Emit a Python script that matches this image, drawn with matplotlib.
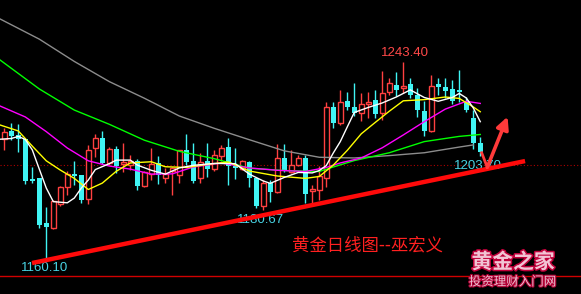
import matplotlib
matplotlib.use('Agg')
import matplotlib.pyplot as plt
import matplotlib.patheffects as pe
import numpy as np

# daily candles, left to right
opens = [1210.8, 1214.2, 1212.5, 1210.8, 1193.9, 1194.4, 1175.4, 1173.3, 1183.4, 1190.6,
         1196.0, 1195.6, 1185.5, 1207.0, 1211.2, 1200.7, 1206.6, 1200.3, 1199.8, 1201.5,
         1191.0, 1196.0, 1200.7, 1194.4, 1197.3, 1195.6, 1206.2, 1201.5, 1194.4, 1201.5,
         1198.1, 1203.6, 1207.4, 1199.4, 1198.1, 1201.1, 1194.4, 1182.6, 1192.2, 1188.5,
         1202.8, 1196.9, 1199.8, 1202.8, 1188.9, 1189.3, 1194.4, 1224.3, 1217.5, 1226.8,
         1224.3, 1221.8, 1225.6, 1227.2, 1221.8, 1230.6, 1233.6, 1232.3, 1234.0, 1229.3,
         1222.6, 1214.2, 1234.0, 1232.7, 1231.9, 1231.5, 1226.8, 1219.7, 1209.1]
closes = [1213.7, 1212.1, 1210.8, 1193.1, 1193.1, 1174.5, 1173.7, 1184.7, 1190.6, 1196.0,
          1195.2, 1185.1, 1206.2, 1211.2, 1200.7, 1206.6, 1199.4, 1201.1, 1201.5, 1191.0,
          1196.9, 1200.3, 1195.6, 1196.0, 1198.6, 1206.2, 1201.1, 1193.1, 1201.1, 1198.1,
          1204.1, 1207.0, 1199.4, 1198.6, 1201.5, 1194.4, 1182.6, 1192.2, 1188.5, 1202.8,
          1197.3, 1199.8, 1202.8, 1187.6, 1189.7, 1195.2, 1224.3, 1217.5, 1226.4, 1224.3,
          1221.8, 1225.6, 1226.4, 1221.3, 1230.2, 1234.4, 1231.5, 1233.1, 1229.3, 1223.0,
          1214.2, 1233.1, 1232.7, 1231.0, 1226.8, 1230.6, 1223.0, 1209.1, 1205.3]
highs = [1215.4, 1217.5, 1217.1, 1210.8, 1199.0, 1194.4, 1182.1, 1185.1, 1191.0, 1197.3,
         1201.5, 1195.6, 1208.3, 1212.9, 1214.2, 1207.4, 1207.8, 1209.1, 1204.1, 1202.4,
         1197.3, 1207.0, 1203.6, 1198.6, 1199.0, 1206.2, 1212.9, 1209.1, 1204.9, 1209.1,
         1206.2, 1208.3, 1211.2, 1207.0, 1201.9, 1201.5, 1194.4, 1193.5, 1193.5, 1208.7,
         1208.7, 1206.2, 1204.1, 1204.1, 1191.4, 1199.4, 1226.4, 1226.4, 1231.5, 1230.6,
         1234.4, 1230.2, 1230.6, 1231.5, 1239.5, 1236.5, 1239.0, 1243.4, 1236.5, 1232.3,
         1226.8, 1237.8, 1236.5, 1236.5, 1235.7, 1239.9, 1228.5, 1223.0, 1211.6]
lows = [1206.2, 1210.4, 1205.3, 1191.8, 1192.2, 1173.3, 1160.1, 1172.9, 1182.6, 1187.2,
        1191.4, 1183.8, 1183.4, 1203.2, 1200.3, 1199.8, 1196.5, 1196.9, 1197.7, 1189.3,
        1190.6, 1193.5, 1191.8, 1192.2, 1187.2, 1192.2, 1199.8, 1192.2, 1192.2, 1194.8,
        1197.3, 1201.5, 1191.4, 1193.9, 1197.7, 1190.6, 1181.7, 1180.67, 1184.2, 1188.1,
        1196.9, 1196.5, 1199.4, 1183.8, 1183.8, 1185.1, 1190.6, 1215.4, 1216.7, 1223.0,
        1220.5, 1218.4, 1219.7, 1219.7, 1218.8, 1229.3, 1228.9, 1230.2, 1228.1, 1220.1,
        1212.1, 1213.8, 1229.3, 1228.1, 1225.6, 1226.4, 1222.2, 1206.6, 1203.7]

# moving averages (candle index, price)
ma5_x = [-0.6, 1, 2, 3, 4, 5, 6, 7, 9, 10, 11, 12, 13, 15, 16, 18, 19, 21, 23, 25, 27, 30, 33,
         35, 37, 38, 40, 42, 44, 45, 46, 47, 48, 49, 50, 52, 54, 56, 58, 60, 62, 64, 65, 66, 67, 68]
ma5_y = [1210.7, 1211.0, 1211.9, 1210.6, 1206.2, 1198.1, 1190.1, 1184.4, 1183.9, 1185.9, 1190.1,
         1193.5, 1197.9, 1200.4, 1201.9, 1201.9, 1199.8, 1197.6, 1196.0, 1198.6, 1199.7, 1200.5,
         1200.4, 1196.0, 1193.1, 1192.1, 1194.6, 1196.7, 1196.5, 1197.5, 1199.6, 1204.9, 1209.7,
         1215.9, 1222.0, 1224.1, 1226.0, 1228.5, 1231.5, 1228.3, 1226.7, 1228.3, 1230.0, 1228.1,
         1223.9, 1218.1]
ma10_x = [-0.6, 2, 4, 6, 8, 10, 12, 14, 16, 18, 21, 23, 26, 29, 32, 35, 39, 43, 45, 47, 49, 51,
          53, 55, 57, 60, 63, 65, 67, 68]
ma10_y = [1216.7, 1214.2, 1207.8, 1201.6, 1197.7, 1194.2, 1189.5, 1192.2, 1197.2, 1200.7, 1201.2,
          1199.1, 1198.8, 1200.1, 1201.1, 1197.3, 1195.2, 1194.2, 1195.0, 1199.8, 1206.0, 1213.0,
          1217.8, 1222.5, 1226.9, 1227.4, 1228.5, 1227.9, 1224.3, 1222.3]
ma20_x = [-0.6, 3, 6, 9, 12, 15, 18, 21, 24, 27, 31, 35, 39, 43, 46, 48, 51, 54, 57, 60, 63, 66, 68]
ma20_y = [1224.7, 1220.1, 1213.9, 1207.0, 1201.6, 1199.4, 1198.1, 1196.0, 1196.1, 1199.0, 1200.7,
          1198.6, 1197.6, 1197.1, 1198.8, 1200.7, 1202.8, 1207.1, 1212.5, 1218.1, 1223.4, 1226.7,
          1225.8]
ma40_x = [-0.6, 5, 10, 15, 20, 25, 30, 35, 40, 45, 47, 50, 55, 60, 65, 68]
ma40_y = [1244.1, 1231.9, 1223.0, 1217.0, 1210.3, 1205.6, 1202.5, 1198.5, 1197.5, 1197.1, 1199.0,
          1201.7, 1205.0, 1209.7, 1211.9, 1212.7]
ma60_x = [-0.6, 5, 10, 15, 20, 25, 30, 35, 40, 45, 50, 55, 60, 65, 67]
ma60_y = [1261.4, 1252.9, 1243.5, 1235.0, 1228.0, 1220.5, 1215.3, 1210.5, 1205.8, 1203.1, 1202.8,
          1203.8, 1205.0, 1207.4, 1208.3]

# support line and arrow
trend_x = [3.96, 74.4]
trend_y = [1158.5, 1201.5]
arrow_x = [68.2, 69.0, 71.9]
arrow_y = [1205.0, 1198.9, 1220.2]

UP = '#ff4040'
DOWN = '#40f4f4'

fig = plt.figure(figsize=(5.81, 2.94), dpi=100, facecolor='black')
ax = fig.add_axes([0, 0, 1, 1])
ax.set_facecolor('black')
ax.set_xlim(-0.614, 82.39)
ax.set_ylim(1145.45, 1269.4)
ax.axis('off')

ax.axhline(1200.0, color='#b00000', lw=0.8, ls=(0, (1, 2)), zorder=1)
ax.axhline(1153.0, color='#d00000', lw=1.0, zorder=1)

x = np.arange(len(opens))
o = np.array(opens)
c = np.array(closes)
up = c >= o
cols = np.where(up, UP, DOWN)
ax.vlines(x, lows, highs, colors=cols, lw=1.0, zorder=2)
bottom = np.minimum(o, c)
height = np.maximum(np.abs(c - o), 0.4)
ax.bar(x[up], height[up], bottom=bottom[up], width=0.72, facecolor='black',
       edgecolor=UP, linewidth=1.0, zorder=3)
ax.bar(x[~up], height[~up], bottom=bottom[~up], width=0.72, color=DOWN, linewidth=0, zorder=3)

ax.plot(ma60_x, ma60_y, color='#8c8c8c', lw=1.0, zorder=4)
ax.plot(ma40_x, ma40_y, color='#00ff00', lw=1.0, zorder=4)
ax.plot(ma20_x, ma20_y, color='#ff00ff', lw=1.0, zorder=4)
ax.plot(ma10_x, ma10_y, color='#ffff00', lw=1.0, zorder=4)
ax.plot(ma5_x, ma5_y, color='#ffffff', lw=1.0, zorder=4)

num_font = ['Liberation Sans', 'DejaVu Sans']
ax.text(57.3, 1247.1, '1243.40', color='#ff4848', fontsize=9.5, family=num_font,
        ha='center', va='center', zorder=5)
ax.text(5.7, 1156.6, '1160.10', color='#48d4e4', fontsize=9.5, family=num_font,
        ha='center', va='center', zorder=5)
ax.text(36.6, 1176.6, '1180.67', color='#48d4e4', fontsize=9.5, family=num_font,
        ha='center', va='center', zorder=5)
ax.text(67.6, 1199.4, '1203.70', color='#48d4e4', fontsize=9.5, family=num_font,
        ha='center', va='center', zorder=5)

ax.plot(trend_x, trend_y, color='#ff0a0a', lw=3.2, solid_capstyle='butt', zorder=6)

ax.plot(arrow_x[:2], arrow_y[:2], color='#ff3a3a', lw=2.0, zorder=7)
ax.annotate('', xy=(arrow_x[2], arrow_y[2]), xytext=(arrow_x[1], arrow_y[1]),
            arrowprops=dict(arrowstyle='-|>', color='#ff3a3a', lw=2.6,
                            mutation_scale=18, shrinkA=0, shrinkB=0), zorder=7)

cjk = ['Noto Sans CJK SC', 'DejaVu Sans']
ax.text(51.9, 1166.1, '黄金日线图--巫宏义', color='#ff2020', fontsize=12.5, family=cjk,
        ha='center', va='center', zorder=5)

ax.text(72.7, 1159.0, '黄金之家', color='#f2c4d4', fontsize=15, family=cjk,
        fontweight='bold', ha='center', va='center', zorder=8,
        path_effects=[pe.withStroke(linewidth=2.2, foreground='#c0003a')])
ax.text(72.6, 1150.5, '投资理财入门网', color='#ecc0d0', fontsize=9, family=cjk,
        ha='center', va='center', zorder=8,
        path_effects=[pe.withStroke(linewidth=1.6, foreground='#b00034')])

fig.savefig('out.png', dpi=100, facecolor='black')
